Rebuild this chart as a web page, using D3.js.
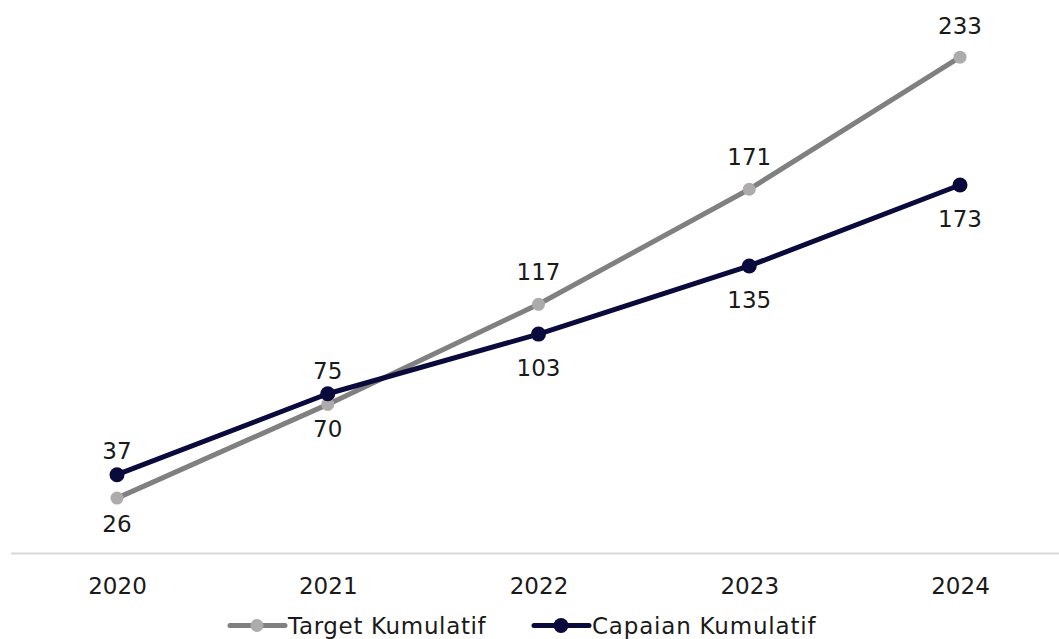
<!DOCTYPE html>
<html>
<head>
<meta charset="utf-8">
<script src="https://cdn.jsdelivr.net/npm/d3@7"></script>
<style>
  html, body { margin: 0; padding: 0; background: #fff; }
  svg { display: block; font-family: "DejaVu Sans", sans-serif; }
</style>
</head>
<body>
<svg id="chart" width="1059" height="639"></svg>
<script>
// Chart data
const years = ["2020", "2021", "2022", "2023", "2024"];
const targetValues = [26, 70, 117, 171, 233];
const capaianValues = [37, 75, 103, 135, 173];
const seriesNames = ["Target Kumulatif", "Capaian Kumulatif"];

// Label placement: signed distance (px) from point to label centre
const targetLabelOffset = [25, 24, -33, -33, -32];
const capaianLabelOffset = [-24, -23, 34, 34, 34];

const W = 1059, H = 639;
const FONT = 23;
const CAP = FONT * 0.729; // cap height of DejaVu Sans
const svg = d3.select("#chart");

const x = d3.scalePoint().domain(years).range([117, 960]);
const y = d3.scaleLinear().domain([0, 250]).range([553.5, 21]);

const series = [
  { name: seriesNames[0], values: targetValues, offsets: targetLabelOffset,
    line: "#808080", marker: "#aeabab", r: 6.5, width: 5 },
  { name: seriesNames[1], values: capaianValues, offsets: capaianLabelOffset,
    line: "#0a0a3c", marker: "#0a0a3c", r: 7.5, width: 5 }
];

// Category axis baseline
svg.append("line")
  .attr("x1", 11).attr("x2", W)
  .attr("y1", y(0)).attr("y2", y(0))
  .attr("stroke", "#d9d9d9").attr("stroke-width", 2);

const xAxis = svg.append("g")
  .attr("transform", `translate(0,${y(0)})`)
  .call(d3.axisBottom(x).tickSize(0));
xAxis.select(".domain").remove();
xAxis.selectAll("text")
  .attr("dy", null)
  .attr("y", 40)
  .attr("font-size", FONT)
  .attr("fill", "#1a1a1a")
  .style("font-family", "'DejaVu Sans', sans-serif");

const lineGen = d3.line()
  .x((d, i) => x(years[i]))
  .y(d => y(d));

series.forEach(s => {
  const g = svg.append("g");
  g.append("path")
    .datum(s.values)
    .attr("d", lineGen)
    .attr("fill", "none")
    .attr("stroke", s.line)
    .attr("stroke-width", s.width)
    .attr("stroke-linejoin", "round");
  g.selectAll("circle")
    .data(s.values)
    .join("circle")
    .attr("cx", (d, i) => x(years[i]))
    .attr("cy", d => y(d))
    .attr("r", s.r)
    .attr("fill", s.marker);
  g.selectAll("text")
    .data(s.values)
    .join("text")
    .attr("x", (d, i) => x(years[i]))
    .attr("y", (d, i) => y(d) + s.offsets[i] + CAP / 2)
    .attr("text-anchor", "middle")
    .attr("font-size", FONT)
    .attr("fill", "#1a1a1a")
    .text(d => d);
});

// Legend
const legendItems = [
  { s: series[0], x0: 228, spacing: 0.65 },
  { s: series[1], x0: 532, spacing: 0.8 }
];
legendItems.forEach(({ s, x0, spacing }) => {
  const g = svg.append("g").attr("transform", `translate(${x0},625.5)`);
  g.append("line").attr("x1", 2).attr("x2", 57).attr("y1", 0).attr("y2", 0)
    .attr("stroke", s.line).attr("stroke-width", s.width).attr("stroke-linecap", "round");
  g.append("circle").attr("cx", 29).attr("cy", 0).attr("r", s.r).attr("fill", s.marker);
  g.append("text").attr("x", 60).attr("y", CAP / 2)
    .attr("font-size", FONT).attr("fill", "#1a1a1a")
    .attr("letter-spacing", spacing)
    .text(s.name);
});
</script>
</body>
</html>
